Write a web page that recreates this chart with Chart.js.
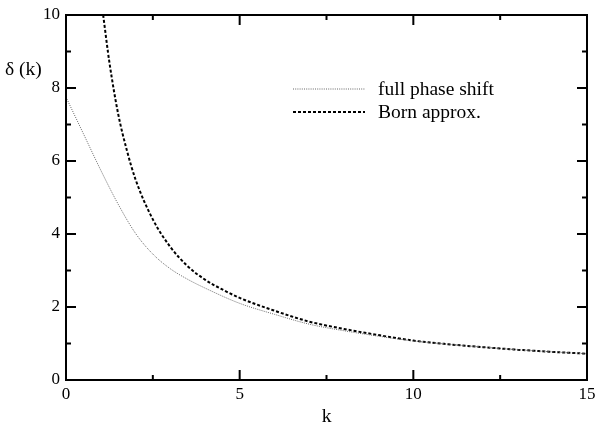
<!DOCTYPE html>
<html>
<head>
<meta charset="utf-8">
<script src="https://cdn.jsdelivr.net/npm/chart.js@4/dist/chart.umd.min.js"></script>
<style>
  html, body { margin: 0; padding: 0; background: #fff; }
  #wrap { width: 596px; height: 430px; }
</style>
</head>
<body>
<div id="wrap"><canvas id="chart" width="596" height="430"></canvas></div>
<script>
// phase shift vs. wave number
let kFull = [0, 0.5, 1, 1.5, 2, 2.5, 3, 3.5, 4, 5, 6, 7, 8, 9, 10, 11, 12, 13, 14, 15];
let deltaFull = [7.75, 6.75, 5.75, 4.82, 4.02, 3.45, 3.05, 2.76, 2.52, 2.1, 1.8, 1.53, 1.35, 1.2, 1.07, 0.98, 0.9, 0.83, 0.77, 0.72];

let kBorn = [1.07, 1.25, 1.5, 1.75, 2, 2.5, 3, 3.5, 4, 4.5, 5, 6, 7, 8, 9, 10, 11, 12, 13, 14, 15];
let deltaBorn = [10, 8.7, 7.3, 6.3, 5.5, 4.4, 3.65, 3.12, 2.75, 2.48, 2.25, 1.9, 1.6, 1.4, 1.23, 1.08, 0.98, 0.9, 0.83, 0.77, 0.72];

let xTicks = [0, 5, 10, 15];
let yTicks = [0, 2, 4, 6, 8, 10];
let seriesNames = ['full phase shift', 'Born approx.'];

const TICK_FONT = '17px "Liberation Serif", "Times New Roman", serif';
const TEXT_FONT = '19.5px "Liberation Serif", "Times New Roman", serif';

function pts(xs, ys) {
    return xs.map((x, i) => ({ x: x, y: ys[i] }));
}

const styles = [
    { color: '#666', width: 1, dash: [1, 1.2] },
    { color: '#000', width: 2, dash: [3, 2] }
];

// axes box, inward ticks on all four sides, labels and legend
const frame = {
    id: 'frame',
    afterDraw(chart) {
        const ctx = chart.ctx;
        const a = chart.chartArea;
        const xs = chart.scales.x, ys = chart.scales.y;
        ctx.save();
        ctx.strokeStyle = '#000';
        ctx.lineWidth = 2;
        ctx.setLineDash([]);
        ctx.strokeRect(a.left, a.top, a.right - a.left, a.bottom - a.top);

        ctx.beginPath();
        for (let v = 0; v <= 15; v += 2.5) {
            const px = xs.getPixelForValue(v);
            const len = (v % 5 === 0) ? 10 : 5;
            ctx.moveTo(px, a.bottom); ctx.lineTo(px, a.bottom - len);
            ctx.moveTo(px, a.top); ctx.lineTo(px, a.top + len);
        }
        for (let v = 0; v <= 10; v += 1) {
            const py = ys.getPixelForValue(v);
            const len = (v % 2 === 0) ? 10 : 5;
            ctx.moveTo(a.left, py); ctx.lineTo(a.left + len, py);
            ctx.moveTo(a.right, py); ctx.lineTo(a.right - len, py);
        }
        ctx.stroke();

        ctx.fillStyle = '#000';
        ctx.font = TICK_FONT;
        ctx.textBaseline = 'middle';
        ctx.textAlign = 'right';
        yTicks.forEach(v => ctx.fillText(String(v), a.left - 6, ys.getPixelForValue(v)));
        ctx.textAlign = 'center';
        xTicks.forEach(v => ctx.fillText(String(v), xs.getPixelForValue(v), a.bottom + 15));

        // axis titles
        ctx.font = TEXT_FONT;
        ctx.fillText('k', (a.left + a.right) / 2, a.bottom + 37);
        ctx.textAlign = 'left';
        ctx.fillText('\u03b4 (k)', 5, 70);

        // legend
        seriesNames.forEach((name, i) => {
            const y = 89 + i * 23;
            const s = styles[i];
            ctx.beginPath();
            ctx.strokeStyle = s.color;
            ctx.lineWidth = s.width;
            ctx.setLineDash(s.dash);
            ctx.moveTo(293, y); ctx.lineTo(365, y);
            ctx.stroke();
            ctx.fillStyle = '#000';
            ctx.fillText(name, 378, y + 1);
        });
        ctx.restore();
    }
};

new Chart(document.getElementById('chart').getContext('2d'), {
    type: 'line',
    data: {
        datasets: [{
            label: seriesNames[0],
            data: pts(kFull, deltaFull),
            borderColor: styles[0].color,
            borderWidth: styles[0].width,
            borderDash: styles[0].dash,
            pointRadius: 0,
            cubicInterpolationMode: 'monotone',
            fill: false
        }, {
            label: seriesNames[1],
            data: pts(kBorn, deltaBorn),
            borderColor: styles[1].color,
            borderWidth: styles[1].width,
            borderDash: styles[1].dash,
            pointRadius: 0,
            cubicInterpolationMode: 'monotone',
            fill: false
        }]
    },
    options: {
        responsive: false,
        animation: false,
        events: [],
        layout: { padding: { top: 15, right: 9, left: 0, bottom: 0 } },
        plugins: {
            legend: { display: false },
            tooltip: { enabled: false }
        },
        scales: {
            x: {
                type: 'linear',
                min: 0,
                max: 15,
                grid: { display: false },
                border: { display: false },
                ticks: { display: false, stepSize: 2.5 },
                afterFit(scale) { scale.height = 50; }
            },
            y: {
                min: 0,
                max: 10,
                grid: { display: false },
                border: { display: false },
                ticks: { display: false, stepSize: 1 },
                afterFit(scale) { scale.width = 66; }
            }
        }
    },
    plugins: [frame]
});
</script>
</body>
</html>
